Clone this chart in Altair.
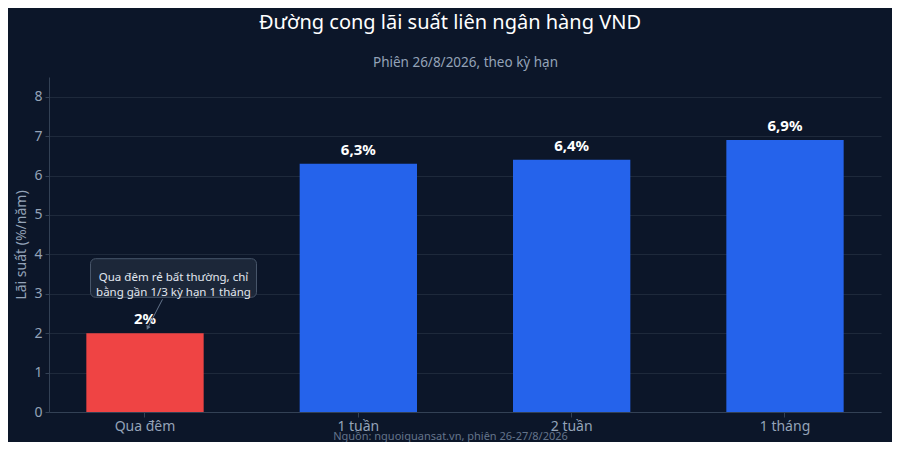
import altair as alt
import pandas as pd

# ---- data ----
ky_han = ["Qua đêm", "1 tuần", "2 tuần", "1 tháng"]
lai_suat = [2.0, 6.3, 6.4, 6.9]
y_ticks = [0, 1, 2, 3, 4, 5, 6, 7, 8]

title_text = "Đường cong lãi suất liên ngân hàng VND"
subtitle_text = "Phiên 26/8/2026, theo kỳ hạn"
source_text = "Nguồn: nguoiquansat.vn, phiên 26-27/8/2026"
y_title = "Lãi suất (%/năm)"

ann_cat = ["Qua đêm"]
ann_text = ["Qua đêm rẻ bất thường, chỉ\nbằng gần 1/3 kỳ hạn 1 tháng"]
ann_box_low = [2.91]
ann_box_high = [3.89]
ann_text_y = [3.4]
ann_arrow_from = [2.86]
ann_arrow_to = [2.15]

# ---- tables ----
df = pd.DataFrame({"ky_han": ky_han, "lai_suat": lai_suat})
df["nhan"] = [f"{v:g}%".replace(".", ",") for v in lai_suat]
ann = pd.DataFrame({
    "ky_han": ann_cat, "text": ann_text, "lo": ann_box_low, "hi": ann_box_high,
    "ty": ann_text_y, "a1": ann_arrow_from, "a2": ann_arrow_to,
})

FONT = "Noto Sans"
BG = "#0c1629"
GRID = "#1e293b"
DOMAIN = "#334155"
MUTED = "#94a3b8"
RED = "#ef4444"
BLUE = "#2563eb"

xscale = alt.Scale(paddingInner=0.45, paddingOuter=0.175)
yscale = alt.Scale(domain=[0, 8.5], nice=False)

x_bottom = alt.X(
    "ky_han:N", sort=ky_han, scale=xscale,
    axis=alt.Axis(
        title=source_text, titleFontSize=11, titleColor="#64748b",
        titleFontWeight="normal", titleFont=FONT, titlePadding=-3, titleX=401,
        labelAngle=0, labelFontSize=14, labelColor=MUTED, labelFont=FONT,
        domainColor=DOMAIN, tickColor=DOMAIN, tickSize=5, grid=False,
    ),
)
x_top = alt.X(
    "ky_han:N", sort=ky_han, scale=xscale,
    axis=alt.Axis(
        orient="top", title=subtitle_text, titleFontSize=13.5, titleColor=MUTED,
        titleFontWeight="normal", titleFont=FONT, titlePadding=8,
        labels=False, ticks=False, domain=False, grid=False,
    ),
)
x_none = alt.X("ky_han:N", sort=ky_han, scale=xscale, axis=None)

y_axis = alt.Y(
    "lai_suat:Q", scale=yscale,
    axis=alt.Axis(
        values=y_ticks, title=y_title, titleFontSize=14, titleColor=MUTED,
        titleFontWeight="normal", titleFont=FONT, titlePadding=5,
        labelFontSize=14, labelColor=MUTED, labelFont=FONT,
        gridColor=GRID, domainColor=DOMAIN, tickColor=DOMAIN, tickSize=4,
        labelPadding=3,
    ),
)

bars = alt.Chart(df).mark_bar().encode(
    x=x_bottom,
    y=y_axis,
    color=alt.condition(alt.datum.ky_han == "Qua đêm", alt.value(RED), alt.value(BLUE)),
)

labels = alt.Chart(df).mark_text(
    font=FONT, fontSize=15, fontWeight="bold", color="white",
    baseline="alphabetic", dy=-9,
).encode(
    x=x_top,
    y=alt.Y("lai_suat:Q", scale=yscale, axis=None),
    text="nhan:N",
)

box = alt.Chart(ann).mark_bar(
    width=166, xOffset=28.5, cornerRadius=5, fill="#1e293b", fillOpacity=0.9,
    stroke="#475569", strokeWidth=1,
).encode(
    x=x_none,
    y=alt.Y("lo:Q", scale=yscale, axis=None),
    y2="hi:Q",
)

box_text = alt.Chart(ann).mark_text(
    font=FONT, fontSize=11.5, color="#e2e8f0", lineBreak="\n", lineHeight=14.5,
    align="center", baseline="middle", dx=28.5,
).encode(
    x=x_none,
    y=alt.Y("ty:Q", scale=yscale, axis=None),
    text="text:N",
)

arrow = alt.Chart(ann).mark_rule(
    color="#64748b", strokeWidth=1, xOffset=17.5, x2Offset=3,
).encode(
    x=x_none,
    x2="ky_han:N",
    y=alt.Y("a1:Q", scale=yscale, axis=None),
    y2="a2:Q",
)

arrow_head = alt.Chart(ann).mark_point(
    shape="triangle", angle=207, size=22, filled=True, color="#64748b",
    opacity=1, xOffset=3,
).encode(
    x=x_none,
    y=alt.Y("a2:Q", scale=yscale, axis=None),
)

chart = alt.layer(bars, labels, box, box_text, arrow, arrow_head).resolve_axis(
    x="independent", y="independent"
).properties(
    width=832,
    height=335,
    autosize=alt.AutoSizeParams(type="none"),
    padding={"left": 41, "top": 69, "right": 11, "bottom": 30},
    background=BG,
    title=alt.Title(
        title_text, fontSize=20, color="white", font=FONT, fontWeight="normal",
        anchor="middle", offset=22, dx=-15,
    ),
).configure_view(stroke=None)

chart.save("out.html", embed_options={"renderer": "svg", "actions": False})
